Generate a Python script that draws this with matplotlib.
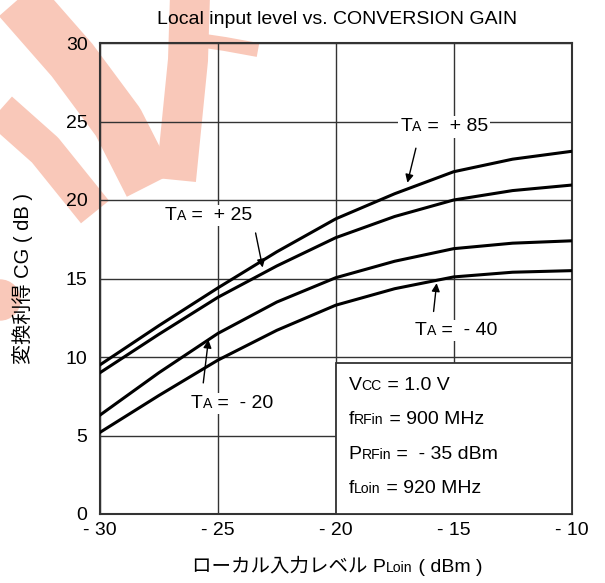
import numpy as np
import matplotlib.pyplot as plt
from matplotlib.patches import Rectangle, Circle
from matplotlib.offsetbox import TextArea, HPacker, AnnotationBbox

plt.rcParams['font.family'] = ['Liberation Sans', 'Noto Sans CJK JP']

# local input level (dBm)
p_lo = [-30, -27.5, -25, -22.5, -20, -17.5, -15, -12.5, -10]
# conversion gain (dB) for each ambient temperature
cg_p85 = [9.5, 12.0, 14.4, 16.7, 18.8, 20.4, 21.8, 22.6, 23.1]
cg_p25 = [9.0, 11.45, 13.8, 15.8, 17.6, 18.95, 20.0, 20.6, 20.95]
cg_m20 = [6.3, 9.0, 11.5, 13.5, 15.05, 16.1, 16.9, 17.25, 17.4]
cg_m40 = [5.2, 7.55, 9.8, 11.7, 13.3, 14.35, 15.1, 15.4, 15.5]

xticks = [-30, -25, -20, -15, -10]
xticklabels = ['- 30', '- 25', '- 20', '- 15', '- 10']
yticks = [0, 5, 10, 15, 20, 25, 30]

FS = 14

fig = plt.figure(figsize=(6.05, 5.83), dpi=100)

# red stamp in the top-left corner (drawn underneath)
bg = fig.add_axes([0, 0, 1, 1], zorder=-1)
bg.set_xlim(0, 605)
bg.set_ylim(583, 0)
bg.axis('off')
pink = '#f9c8b9'
strokes = [
    ([15, 72, 118, 150], [-5, 60, 122, 185], 52),
    ([190, 188, 182, 176], [-5, 60, 120, 180], 40),
    ([185, 225, 258], [38, 44, 50], 14),
    ([0, 45, 95], [110, 150, 212], 36),
]
for xs, ys, w in strokes:
    bg.plot(xs, ys, color=pink, lw=w * 0.72, solid_capstyle='butt',
            solid_joinstyle='round')
bg.add_patch(Circle((0, 300), 20, color=pink))

ax = fig.add_axes([100/605, 69/583, 471.5/605, 471/583])
ax.patch.set_alpha(0)

for cg in [cg_p85, cg_p25, cg_m20, cg_m40]:
    ax.plot(p_lo, cg, color='black', lw=2.2, zorder=4)

ax.set_xlim(-30, -10)
ax.set_ylim(0, 30)
ax.set_xticks(xticks)
ax.set_xticklabels(xticklabels)
ax.set_yticks(yticks)
ax.tick_params(length=0, labelsize=FS)
ax.tick_params(axis='x', pad=6)
ax.tick_params(axis='y', pad=9)
ax.grid(True, color='#333333', lw=1.0, zorder=1)
ax.set_axisbelow(True)
for s in ax.spines.values():
    s.set_linewidth(1.5)
    s.set_color('#333333')


def rich(target, parts, xy, coords, align=(0.5, 0.5), white=False, z=5):
    # text with small subscripts sitting on the baseline
    kids = [TextArea(t, textprops=dict(size=FS * 0.72 if sub else FS))
            for t, sub in parts]
    box = HPacker(children=kids, align='baseline', pad=0, sep=0)
    ab = AnnotationBbox(box, xy, xycoords=coords, frameon=white, pad=0.15,
                        box_alignment=align, zorder=z,
                        bboxprops=dict(facecolor='white', edgecolor='none'))
    target.add_artist(ab)


def label(temp, xy_text, start, end):
    rich(ax, [('T', 0), ('A', 1), (' =  ' + temp, 0)], xy_text, 'data', white=True)
    ax.annotate('', xy=end, xytext=start, zorder=6,
                arrowprops=dict(arrowstyle='-|>', color='black', lw=1,
                                mutation_scale=12, shrinkA=0, shrinkB=0))

label('+ 85', (-15.4, 24.65), (-16.6, 23.3), (-16.96, 21.1))
label('+ 25', (-25.4, 19.0), (-23.4, 17.9), (-23.1, 15.7))
label('- 40', (-14.9, 11.7), (-15.85, 12.9), (-15.72, 14.7))
label('- 20', (-24.4, 7.05), (-25.62, 8.35), (-25.4, 11.1))

# conditions box
ax.add_patch(Rectangle((-20, 0), 10, 9.6, facecolor='white', edgecolor='#333333',
                       lw=1.3, zorder=3))
cond = [
    [('V', 0), ('CC', 1), (' = 1.0 V', 0)],
    [('f', 0), ('RFin', 1), (' = 900 MHz', 0)],
    [('P', 0), ('RFin', 1), (' =  - 35 dBm', 0)],
    [('f', 0), ('Loin', 1), (' = 920 MHz', 0)],
]
for i, c in enumerate(cond):
    rich(ax, c, (-19.45, 8.2 - i * 2.2), 'data', align=(0, 0.5))

fig.text(337/605, 1 - 20/583, 'Local input level vs. CONVERSION GAIN',
         fontsize=FS, ha='center', va='center')
rich(fig, [('ローカル入力レベル P', 0), ('Loin', 1), (' ( dBm )', 0)],
     (337/605, 1 - 567/583), 'figure fraction')
fig.text(22/605, 1 - 278/583, '変換利得 CG ( dB )', fontsize=14.5,
         rotation=90, ha='center', va='center')

fig.savefig('out.png', dpi=100)
